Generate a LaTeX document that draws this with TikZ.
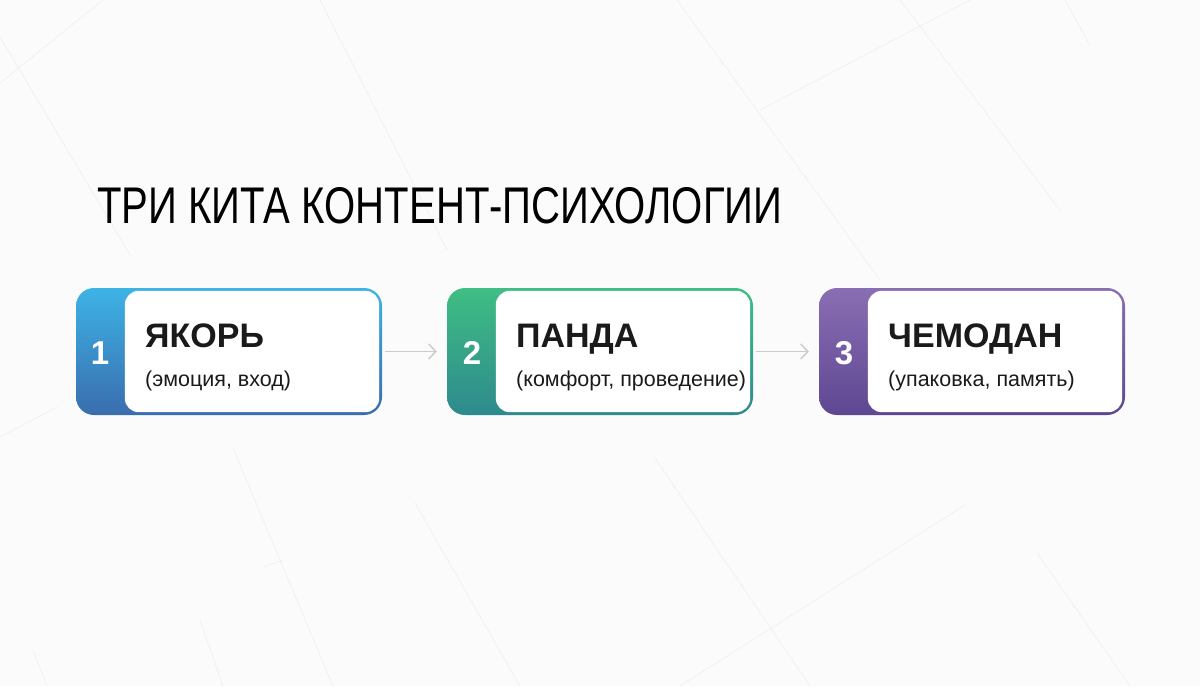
\documentclass[tikz,border=0pt]{standalone}
\usepackage{fontspec}
\usepackage{graphicx}
\setmainfont{Liberation Sans}
\newfontfamily\titelfont{Liberation Sans}
\usetikzlibrary{arrows.meta,positioning}

\definecolor{hintergrund}{HTML}{FBFBFB}
\definecolor{linie}{HTML}{F0F0F0}
\definecolor{blauoben}{HTML}{3DB3E6}
\definecolor{blauunten}{HTML}{3A6DAE}
\definecolor{gruenoben}{HTML}{3FBE84}
\definecolor{gruenunten}{HTML}{2E8A8D}
\definecolor{lilaoben}{HTML}{8A6EB3}
\definecolor{lilaunten}{HTML}{5E4792}
\definecolor{pfeil}{HTML}{CCCCCC}
\definecolor{schrift}{HTML}{1A1A1A}

\tikzset{
	karte/.style={minimum width=306pt, minimum height=127pt, rounded corners=18pt,
		inner sep=0pt},
	nummer/.style={text=white, font=\fontsize{33}{33}\selectfont\bfseries,
		anchor=base, inner sep=0pt},
	kopf/.style={text=schrift, font=\fontsize{34}{34}\selectfont\bfseries,
		anchor=base west, inner sep=0pt},
	unter/.style={text=schrift, font=\fontsize{21.5}{21.5}\selectfont,
		anchor=base west, inner sep=0pt},
	fluss/.style={draw=pfeil, line width=1.5pt, -{Straight Barb[length=7pt,width=15pt]},
		shorten <=3pt, shorten >=10pt},
	hlinie/.style={draw=linie, line width=0.7pt}
}

\begin{document}
\begin{tikzpicture}[x=1pt, y=-1pt]
	% Hintergrund
	\fill[hintergrund] (0,0) rectangle (1200,686);
	\useasboundingbox (0,0) rectangle (1200,686);
	\draw[hlinie] (0,83) -- (103,0);
	\draw[hlinie] (0,37) -- (130,255);
	\draw[hlinie] (320,0) -- (447,250);
	\draw[hlinie] (677,0) -- (880,280);
	\draw[hlinie] (760,110) -- (970,0);
	\draw[hlinie] (900,0) -- (1060,210);
	\draw[hlinie] (1065,0) -- (1090,45);
	\draw[hlinie] (0,437) -- (57,407);
	\draw[hlinie] (233,448) -- (333,686);
	\draw[hlinie] (263,567) -- (283,560);
	\draw[hlinie] (415,503) -- (520,686);
	\draw[hlinie] (33,650) -- (47,686);
	\draw[hlinie] (200,620) -- (223,686);
	\draw[hlinie] (655,458) -- (810,686);
	\draw[hlinie] (680,686) -- (965,505);
	\draw[hlinie] (1037,553) -- (1130,686);

	% Ueberschrift
	\node[anchor=south west, inner sep=0pt] (titel) at (97,224)
		{\resizebox{685pt}{36pt}{\titelfont ТРИ КИТА КОНТЕНТ-ПСИХОЛОГИИ}};

	% Karte 1
	\node[karte, top color=blauoben, bottom color=blauunten] (yakor) at (229,351.5) {};
	\fill[white, rounded corners=14pt] ([xshift=49pt,yshift=-3pt]yakor.north west)
		rectangle ([xshift=-3pt,yshift=3pt]yakor.south east);
	\node[nummer] (n1) at (100,364) {1};
	\node[kopf] (k1) at (145,347) {ЯКОРЬ};
	\node[unter] (u1) at (145,386) {(эмоция, вход)};

	% Karte 2
	\node[karte, top color=gruenoben, bottom color=gruenunten] (panda) at (600,351.5) {};
	\fill[white, rounded corners=14pt] ([xshift=49pt,yshift=-3pt]panda.north west)
		rectangle ([xshift=-3pt,yshift=3pt]panda.south east);
	\node[nummer] (n2) at (472,364) {2};
	\node[kopf] (k2) at (516,347) {ПАНДА};
	\node[unter] (u2) at (516,386) {(комфорт, проведение)};

	% Karte 3
	\node[karte, top color=lilaoben, bottom color=lilaunten] (chemodan) at (972,351.5) {};
	\fill[white, rounded corners=14pt] ([xshift=49pt,yshift=-3pt]chemodan.north west)
		rectangle ([xshift=-3pt,yshift=3pt]chemodan.south east);
	\node[nummer] (n3) at (844,364) {3};
	\node[kopf] (k3) at (888,347) {ЧЕМОДАН};
	\node[unter] (u3) at (888,386) {(упаковка, память)};

	% Pfeile
	\draw[fluss] (yakor.east) -- (panda.west);
	\draw[fluss] (panda.east) -- (chemodan.west);
\end{tikzpicture}
\end{document}
